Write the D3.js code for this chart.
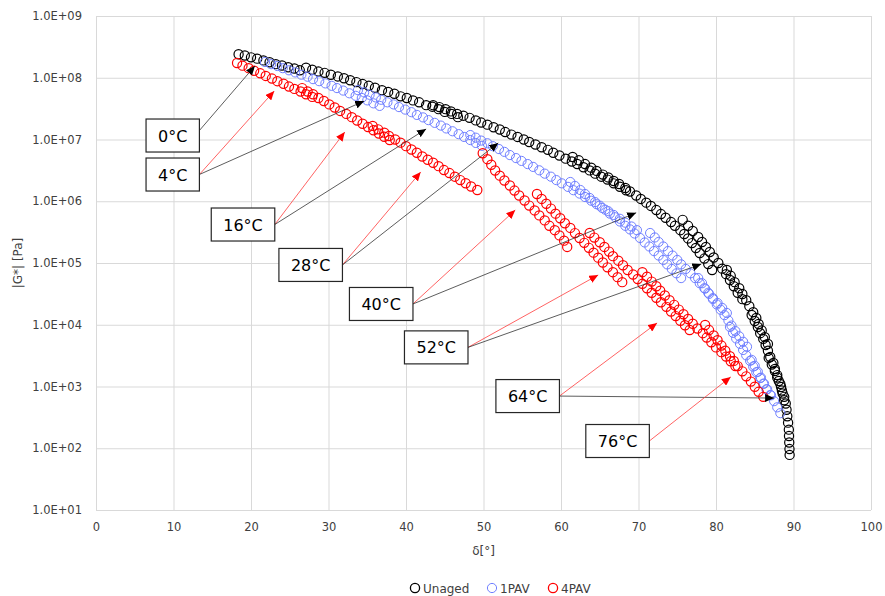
<!DOCTYPE html>
<html lang="en">
<head>
  <meta charset="UTF-8">
  <title>Black space diagram</title>
  <script src="https://d3js.org/d3.v7.min.js"></script>
  <style>
    body { margin: 0; background: #fff; }
    text { font-family: "DejaVu Sans", Verdana, sans-serif; }
  </style>
</head>
<body>
  <script>
    // one frequency sweep per test temperature
    var temps = [0, 4, 16, 28, 40, 52, 64, 76];
    var seriesNames = ["Unaged", "1PAV", "4PAV"];
    var xTicks = [0, 10, 20, 30, 40, 50, 60, 70, 80, 90, 100];
    var yTicks = [1e1, 1e2, 1e3, 1e4, 1e5, 1e6, 1e7, 1e8, 1e9];

    // Unaged: phase angle [deg] and |G*| [Pa], one row per temperature
    var unagedDelta = [
      [18.4,19.2,20.0,20.8,21.6,22.4,23.2,24.0,24.8,25.6,26.3],
      [27.1,27.9,28.7,29.5,30.3,31.2,32.0,32.8,33.6,34.4,35.2,36.0,36.9,37.7,38.5,39.3,40.1,40.9,41.7,42.6,43.4,44.2,45.0,45.9,46.7],
      [43.5,44.3,45.1,45.8,46.6,47.4,48.2,49.0,49.7,50.5,51.3,52.1,52.8,53.6,54.4,55.2,55.9,56.7,57.5,58.3,59.0,59.8,60.6,61.4,62.1,62.9,63.7,64.4,65.2,66.0,66.8,67.6,68.4],
      [61.5,62.3,63.1,63.9,64.6,65.4,66.1,66.8,67.5,68.3,68.9,69.7,70.3,71.0,71.6,72.3,72.9,73.5,74.2,74.7,75.4,75.9,76.4,76.9,77.4,77.9,78.5,79.0,79.5],
      [75.7,76.4,77.0,77.7,78.2,78.7,79.2,79.7,80.3,80.8,81.3,81.8,82.3,82.8,83.4],
      [81.4,81.9,82.4,83.0,83.4,83.9,84.3,84.8,85.2,85.5,85.9,86.3,86.7],
      [84.6,85.0,85.4,85.7,86.1,86.4,86.7,87.0,87.4,87.6,87.9,88.1,88.4,88.6,88.8],
      [86.8,87.2,87.6,87.9,88.3,88.5,88.8,89.0,89.1,89.2,89.3,89.4,89.42,89.45,89.48,89.5]
    ];
    var unagedG = [
      [2.4e8,2.29e8,2.14e8,2.04e8,1.91e8,1.78e8,1.66e8,1.58e8,1.48e8,1.41e8,1.32e8],
      [1.45e8,1.35e8,1.26e8,1.2e8,1.12e8,1.05e8,9.8e7,9.1e7,8.5e7,7.9e7,7.4e7,6.9e7,6.3e7,5.9e7,5.5e7,5.0e7,4.7e7,4.3e7,4.0e7,3.6e7,3.4e7,3.1e7,2.8e7,2.6e7,2.3e7],
      [3.6e7,3.35e7,3.1e7,2.85e7,2.6e7,2.43e7,2.24e7,2.04e7,1.88e7,1.74e7,1.58e7,1.45e7,1.32e7,1.2e7,1.1e7,1.0e7,9.1e6,8.3e6,7.5e6,6.8e6,6.1e6,5.5e6,4.9e6,4.4e6,4.0e6,3.55e6,3.16e6,2.8e6,2.5e6,2.24e6,1.95e6,1.72e6,1.51e6],
      [5.2e6,4.6e6,4.0e6,3.5e6,3.1e6,2.7e6,2.43e6,2.13e6,1.9e6,1.64e6,1.44e6,1.24e6,1.09e6,9.5e5,8.4e5,7.2e5,6.2e5,5.4e5,4.6e5,4.0e5,3.4e5,2.95e5,2.5e5,2.1e5,1.75e5,1.45e5,1.18e5,9.6e4,7.7e4],
      [5.0e5,4.0e5,3.3e5,2.64e5,2.19e5,1.82e5,1.51e5,1.23e5,1.0e5,8.1e4,6.6e4,5.3e4,4.2e4,3.3e4,2.6e4],
      [7.7e4,6.2e4,4.9e4,3.9e4,3.15e4,2.5e4,2.0e4,1.6e4,1.29e4,1.03e4,8.1e3,6.3e3,4.9e3],
      [1.44e4,1.15e4,9.2e3,7.3e3,5.9e3,4.7e3,3.8e3,3.0e3,2.4e3,1.92e3,1.53e3,1.23e3,980,770,600],
      [2.9e3,2.27e3,1.78e3,1.4e3,1.1e3,860,680,530,420,330,260,200,158,124,97,78]
    ];

    // 1PAV
    var pav1Delta = [
      [21.8,22.6,23.4,24.1,24.9,25.7,26.5,27.3,28.0,28.8,29.6,30.4,31.1,31.9,32.7,33.5,34.3,35.0,35.8,36.6],
      [33.8,34.6,35.3,36.1,36.8,37.6,38.4,39.1,39.9,40.7,41.4,42.2,42.9,43.7,44.5,45.2,46.0,46.8,47.5,48.3,49.0,49.8],
      [48.3,49.0,49.7,50.5,51.2,52.0,52.7,53.4,54.2,54.9,55.7,56.4,57.2,57.9,58.7,59.4,60.1,60.9,61.6,62.4,63.1,63.9,64.6,65.3,66.1,66.8,67.6,68.3,69.1,69.8],
      [61.2,61.8,62.5,63.1,63.7,64.4,65.0,65.7,66.3,67.0,67.6,68.3,68.9,69.5,70.2,70.8,71.4,72.0,72.6,73.2,73.7,74.3,74.9,75.5],
      [71.5,72.1,72.6,73.2,73.8,74.4,75.0,75.5,76.1,76.7,77.3,77.9,78.5,79.0,79.6,80.2,80.8,81.4],
      [77.7,78.2,78.6,79.1,79.6,80.1,80.6,81.1,81.6,82.0,82.5,83.0,83.5,84.0],
      [81.8,82.2,82.6,83.1,83.5,83.9,84.4,84.8,85.2,85.7,86.1,86.5,87.0],
      [84.6,85.0,85.4,85.8,86.2,86.6,87.1,87.5,87.9,88.3]
    ];
    var pav1G = [
      [1.8e8,1.66e8,1.55e8,1.43e8,1.32e8,1.22e8,1.12e8,1.04e8,9.5e7,8.8e7,8.1e7,7.4e7,6.8e7,6.2e7,5.6e7,5.1e7,4.7e7,4.3e7,3.85e7,3.5e7],
      [6.3e7,5.8e7,5.3e7,4.8e7,4.4e7,4.0e7,3.7e7,3.35e7,3.05e7,2.77e7,2.5e7,2.28e7,2.06e7,1.86e7,1.68e7,1.51e7,1.36e7,1.22e7,1.1e7,9.8e6,8.8e6,7.9e6],
      [1.18e7,1.07e7,9.6e6,8.7e6,7.8e6,7.0e6,6.3e6,5.6e6,5.0e6,4.5e6,4.0e6,3.6e6,3.17e6,2.8e6,2.5e6,2.2e6,1.95e6,1.71e6,1.51e6,1.33e6,1.17e6,1.02e6,8.95e5,7.8e5,6.9e5,6.0e5,5.2e5,4.5e5,3.9e5,3.4e5],
      [2.05e6,1.77e6,1.52e6,1.31e6,1.13e6,9.7e5,8.5e5,7.3e5,6.3e5,5.5e5,4.7e5,4.0e5,3.5e5,3.0e5,2.54e5,2.15e5,1.85e5,1.56e5,1.32e5,1.12e5,9.5e4,8.0e4,6.8e4,5.7e4],
      [3.06e5,2.59e5,2.19e5,1.85e5,1.56e5,1.32e5,1.12e5,9.5e4,8.0e4,6.8e4,5.7e4,4.7e4,3.9e4,3.3e4,2.7e4,2.25e4,1.87e4,1.55e4],
      [5.7e4,4.7e4,3.85e4,3.16e4,2.6e4,2.13e4,1.75e4,1.43e4,1.17e4,9.7e3,7.9e3,6.5e3,5.3e3,4.4e3],
      [9.2e3,7.4e3,6.0e3,4.9e3,3.9e3,3.2e3,2.6e3,2.1e3,1.7e3,1.37e3,1.11e3,900,730],
      [2.7e3,2.16e3,1.73e3,1.39e3,1.11e3,900,720,580,460,370]
    ];

    // 4PAV
    var pav4Delta = [
      [18.2,18.9,19.7,20.4,21.2,21.9,22.7,23.4,24.2,24.9,25.6,26.4,27.1,27.9],
      [26.6,27.3,28.0,28.7,29.4,30.1,30.8,31.5,32.3,33.0,33.7,34.4,35.1,35.8,36.5,37.2,37.9],
      [35.7,36.4,37.2,37.8,38.6,39.3,40.0,40.7,41.4,42.1,42.8,43.5,44.2,44.9,45.6,46.3,47.0,47.7,48.4,49.2],
      [49.9,50.5,51.0,51.5,52.1,52.7,53.4,54.0,54.6,55.3,55.9,56.6,57.2,57.9,58.5,59.2,59.8,60.4,60.8],
      [56.9,57.5,58.1,58.7,59.3,59.9,60.5,61.2,61.8,62.4,63.0,63.6,64.2,64.8,65.4,66.0,66.7,67.3,67.9],
      [63.7,64.3,65.0,65.6,66.2,66.7,67.4,68.0,68.6,69.3,69.9,70.5,71.1,71.7,72.3,72.9,73.6,74.2,74.8,75.4,76.0,76.6],
      [70.5,71.1,71.7,72.3,72.8,73.4,74.0,74.6,75.2,75.8,76.4,77.0,77.6,78.3,78.8,79.4,80.0,80.7,81.3,81.9,82.5],
      [78.6,79.1,79.7,80.2,80.7,81.2,81.8,82.3,82.8,83.4,83.9,84.5,85.0,85.5,86.1]
    ];
    var pav4G = [
      [1.73e8,1.57e8,1.43e8,1.3e8,1.18e8,1.07e8,9.7e7,8.8e7,8.0e7,7.2e7,6.6e7,6.0e7,5.4e7,4.9e7],
      [6.8e7,6.0e7,5.4e7,4.7e7,4.2e7,3.7e7,3.3e7,2.9e7,2.6e7,2.3e7,2.03e7,1.8e7,1.59e7,1.41e7,1.25e7,1.11e7,9.8e6],
      [1.66e7,1.46e7,1.29e7,1.14e7,1.0e7,8.9e6,7.8e6,6.9e6,6.1e6,5.3e6,4.7e6,4.2e6,3.7e6,3.2e6,2.86e6,2.5e6,2.2e6,1.96e6,1.73e6,1.52e6],
      [6.0e6,4.8e6,3.9e6,3.15e6,2.6e6,2.17e6,1.8e6,1.49e6,1.24e6,1.03e6,8.5e5,7.1e5,5.9e5,4.9e5,4.0e5,3.4e5,2.8e5,2.3e5,1.82e5],
      [1.31e6,1.09e6,9.1e5,7.6e5,6.3e5,5.3e5,4.4e5,3.7e5,3.05e5,2.54e5,2.12e5,1.76e5,1.47e5,1.22e5,1.02e5,8.5e4,7.1e4,5.9e4,4.9e4],
      [3.06e5,2.58e5,2.17e5,1.82e5,1.53e5,1.29e5,1.09e5,9.2e4,7.7e4,6.5e4,5.5e4,4.6e4,3.9e4,3.3e4,2.74e4,2.31e4,1.95e4,1.64e4,1.38e4,1.16e4,9.8e3,8.2e3],
      [7.1e4,6.0e4,5.0e4,4.2e4,3.55e4,2.98e4,2.5e4,2.1e4,1.76e4,1.48e4,1.24e4,1.04e4,8.7e3,7.3e3,6.2e3,5.2e3,4.3e3,3.6e3,3.05e3,2.56e3,2.15e3],
      [9.9e3,8.2e3,6.7e3,5.6e3,4.6e3,3.8e3,3.1e3,2.6e3,2.14e3,1.76e3,1.46e3,1.2e3,990,820,680]
    ];

    // temperature callouts: where the box sits and where its arrows point (delta, |G*|)
    var labelAt = [[9.9,1.16e7],[9.9,2.71e6],[18.97,4.2e5],[27.7,9.3e4],[36.8,2.17e4],[43.9,4.3e3],[55.7,7.0e2],[67.3,1.31e2]];
    var arrowsTo = [
      [["Unaged",20.5,1.55e8]],
      [["4PAV",23.0,6.1e7],["Unaged",34.6,4.2e7]],
      [["4PAV",32.1,1.32e7],["Unaged",42.6,1.48e7]],
      [["4PAV",41.9,2.98e6],["Unaged",51.9,8.8e6]],
      [["4PAV",54.1,7.2e5],["Unaged",69.7,6.5e5]],
      [["4PAV",64.8,6.4e4],["Unaged",78.1,9.6e4]],
      [["4PAV",72.4,1.07e4],["Unaged",87.5,650]],
      [["4PAV",81.9,1.43e3]]
    ];

    var colors = { "Unaged": "#000000", "1PAV": "#7080ff", "4PAV": "#ff0000" };

    var svgWidth = 885, svgHeight = 596;
    var plotLeft = 96, plotRight = 871, plotTop = 16, plotBottom = 510;

    var svg = d3.select("body").append("svg")
      .attr("width", svgWidth)
      .attr("height", svgHeight);

    var x = d3.scaleLinear().domain([0, 100]).range([plotLeft, plotRight]);
    var y = d3.scaleLog().domain([1e1, 1e9]).range([plotBottom, plotTop]);

    var defs = svg.append("defs");
    [["arrK", "#000"], ["arrR", "#ff0000"]].forEach(function(m) {
      defs.append("marker")
        .attr("id", m[0])
        .attr("markerUnits", "userSpaceOnUse")
        .attr("markerWidth", 10).attr("markerHeight", 8)
        .attr("refX", 9).attr("refY", 4)
        .attr("orient", "auto")
        .append("path")
        .attr("d", "M0,0 L9,4 L0,8 Z")
        .attr("fill", m[1]);
    });

    // axes + grid
    var yAxis = svg.append("g")
      .attr("transform", "translate(" + plotLeft + ",0)")
      .call(d3.axisLeft(y)
        .tickValues(yTicks)
        .tickSize(-(plotRight - plotLeft))
        .tickPadding(14)
        .tickFormat(function(d) {
          return "1.0E+" + String(Math.round(Math.log10(d))).padStart(2, "0");
        }));

    var xAxis = svg.append("g")
      .attr("transform", "translate(0," + plotBottom + ")")
      .call(d3.axisBottom(x)
        .tickValues(xTicks)
        .tickSize(-(plotBottom - plotTop))
        .tickPadding(13)
        .tickFormat(d3.format("d")));

    [xAxis, yAxis].forEach(function(a) {
      a.select(".domain").remove();
      a.selectAll(".tick line").attr("stroke", "#d9d9d9").attr("stroke-width", 1);
      a.selectAll(".tick text").attr("fill", "#404040").style("font-size", "11.5px");
    });

    svg.append("text")
      .attr("transform", "translate(22," + ((plotTop + plotBottom) / 2) + ") rotate(-90)")
      .attr("text-anchor", "middle")
      .attr("fill", "#404040")
      .style("font-size", "12px")
      .text("|G*| [Pa]");

    svg.append("text")
      .attr("x", x(50)).attr("y", 555)
      .attr("text-anchor", "middle")
      .attr("fill", "#404040")
      .style("font-size", "12px")
      .text("δ[°]");

    // markers
    function drawSeries(name, deltas, gs) {
      var pts = [];
      deltas.forEach(function(seg, i) {
        seg.forEach(function(d, j) {
          pts.push({ temp: temps[i], delta: d, g: gs[i][j] });
        });
      });
      svg.append("g")
        .selectAll("circle")
        .data(pts)
        .join("circle")
        .attr("cx", function(p) { return x(p.delta); })
        .attr("cy", function(p) { return y(p.g); })
        .attr("r", 4.6)
        .attr("fill", "none")
        .attr("stroke", colors[name])
        .attr("stroke-width", name === "1PAV" ? 1 : 1.2);
    }

    drawSeries("Unaged", unagedDelta, unagedG);
    drawSeries("1PAV", pav1Delta, pav1G);
    drawSeries("4PAV", pav4Delta, pav4G);

    // callouts
    var notes = svg.append("g");
    temps.forEach(function(t, i) {
      var cx = x(labelAt[i][0]), cy = y(labelAt[i][1]);
      var g = notes.append("g");
      var txt = g.append("text")
        .attr("x", cx).attr("y", cy + 6)
        .attr("text-anchor", "middle")
        .attr("fill", "#000")
        .style("font-size", "16px")
        .text(t + "°C");
      var w = txt.node().getComputedTextLength() + 24, h = 33;
      g.insert("rect", "text")
        .attr("x", cx - w / 2).attr("y", cy - h / 2)
        .attr("width", w).attr("height", h)
        .attr("fill", "#fff")
        .attr("stroke", "#262626")
        .attr("stroke-width", 1.2);
      var sx = cx + w / 2, sy = i === 0 ? cy - 5 : cy;
      arrowsTo[i].forEach(function(a) {
        notes.insert("line", "g")
          .attr("x1", sx).attr("y1", sy)
          .attr("x2", x(a[1])).attr("y2", y(a[2]))
          .attr("stroke", a[0] === "4PAV" ? "#ff3b3b" : "#333")
          .attr("stroke-width", 0.8)
          .attr("marker-end", a[0] === "4PAV" ? "url(#arrR)" : "url(#arrK)");
      });
    });

    // legend
    var legendX = [415, 492, 553];
    var legend = svg.append("g");
    seriesNames.forEach(function(n, i) {
      legend.append("circle")
        .attr("cx", legendX[i]).attr("cy", 588).attr("r", 4.6)
        .attr("fill", "none")
        .attr("stroke", colors[n])
        .attr("stroke-width", n === "1PAV" ? 1 : 1.3);
      legend.append("text")
        .attr("x", legendX[i] + 8).attr("y", 592.5)
        .attr("fill", "#404040")
        .style("font-size", "12px")
        .text(n);
    });
  </script>
</body>
</html>
